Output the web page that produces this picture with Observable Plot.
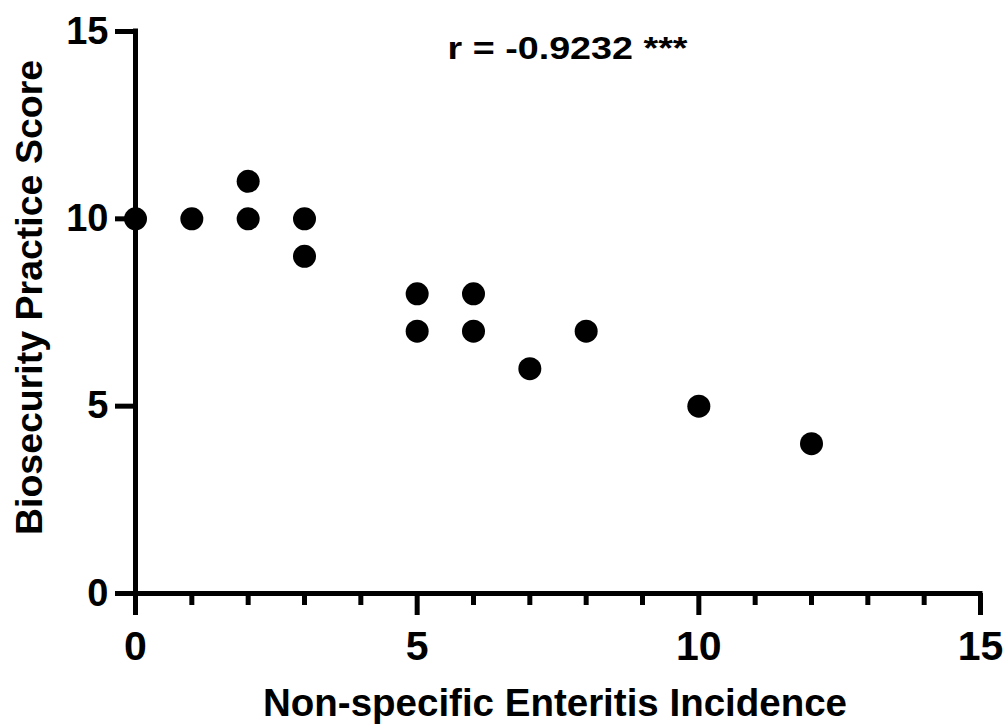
<!DOCTYPE html>
<html>
<head>
<meta charset="utf-8">
<script src="https://cdn.jsdelivr.net/npm/d3@7"></script>
<script src="https://cdn.jsdelivr.net/npm/@observablehq/plot@0.6"></script>
<style>
  html, body { margin: 0; padding: 0; background: white; }
</style>
</head>
<body>
<div id="chart"></div>
<script>
const incidence = [0, 1, 2, 2, 3, 3, 5, 5, 6, 6, 7, 8, 10, 12];
const score     = [10, 10, 11, 10, 10, 9, 8, 7, 8, 7, 6, 7, 5, 4];
const majorTicks = [0, 5, 10, 15];
const minorTicks = [1, 2, 3, 4, 6, 7, 8, 9, 11, 12, 13, 14];
const xTitle = "Non-specific Enteritis Incidence";
const yTitle = "Biosecurity Practice Score";
const annotation = "r = -0.9232 ***";

const points = incidence.map((x, i) => ({x, y: score[i]}));
const font = "'Liberation Sans', Arial, sans-serif";

const chart = Plot.plot({
  width: 1005,
  height: 724,
  marginLeft: 135,
  marginRight: 25,
  marginTop: 31,
  marginBottom: 131,
  style: {fontFamily: font, fontWeight: "bold", background: "white", color: "black"},
  x: {domain: [0, 15], axis: null},
  y: {domain: [0, 15], axis: null},
  marks: [
    Plot.axisX({ticks: minorTicks, tickSize: 12, strokeWidth: 5, tickFormat: () => "", label: null}),
    Plot.axisX({ticks: majorTicks, tickSize: 22, strokeWidth: 5, tickPadding: 15,
                fontSize: 41, fontWeight: "bold", label: null}),
    Plot.axisY({ticks: majorTicks, tickSize: 20, strokeWidth: 5, tickPadding: 7,
                fontSize: 38, fontWeight: "bold", label: null}),
    Plot.ruleY([0], {x1: 0, x2: 15, strokeWidth: 5, strokeLinecap: "square"}),
    Plot.ruleX([0], {y1: 0, y2: 15, strokeWidth: 5, strokeLinecap: "square"}),
    Plot.dot(points, {x: "x", y: "y", r: 11.5, fill: "black"}),
    Plot.text([xTitle], {frameAnchor: "bottom", dy: 110, dx: -3, fontSize: 38.5,
                         fontWeight: "bold", lineAnchor: "middle", textAnchor: "middle"}),
    Plot.text([yTitle], {frameAnchor: "left", dx: -105.5, dy: -15, rotate: -90,
                         fontSize: 37.5, fontWeight: "bold", lineAnchor: "middle", textAnchor: "middle"}),
    Plot.text([annotation], {frameAnchor: "top", dx: 9.5, dy: 18, fontSize: 31,
                             fontWeight: "bold", lineAnchor: "middle", textAnchor: "middle"})
  ]
});
document.getElementById("chart").appendChild(chart);

// stretch the annotation horizontally as in the reference
d3.select(chart).selectAll("text")
  .filter(function() { return this.textContent === annotation; })
  .attr("textLength", 240)
  .attr("lengthAdjust", "spacingAndGlyphs");
</script>
</body>
</html>
